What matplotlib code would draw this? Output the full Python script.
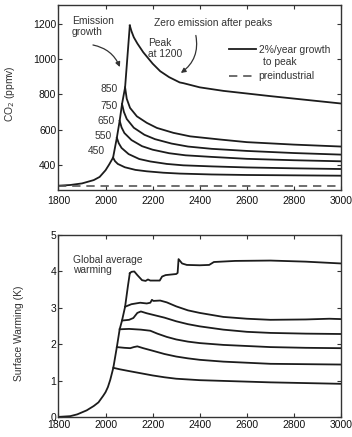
import matplotlib
matplotlib.use("Agg")
import matplotlib.pyplot as plt

plt.rcParams['font.family'] = ['Liberation Sans', 'DejaVu Sans']

# shared emission-growth path (2%/year growth) up to the highest peak
growth_years = [1800, 1850, 1900, 1950, 1975, 2000, 2015, 2032, 2048, 2060, 2070, 2083, 2103]
growth_co2 = [280, 284, 293, 312, 330, 368, 400, 440, 553, 650, 745, 840, 1192]

warm_growth_years = [1800, 1850, 1880, 1920, 1950, 1970, 1990, 2000, 2010, 2020, 2033,
                     2048, 2060, 2070, 2083, 2095, 2103]
warm_growth = [0.0, 0.02, 0.07, 0.18, 0.3, 0.4, 0.58, 0.68, 0.82, 1.02, 1.35,
               1.92, 2.41, 2.65, 3.03, 3.6, 3.95]

peak_labels = ['450', '550', '650', '750', '850']
label_x = [1998, 2027, 2041, 2051, 2051]
label_y = [476, 561, 647, 736, 831]

# CO2 after emissions stop (zero emission after peak)
co2_years = [
    [2032, 2040, 2052, 2082, 2127, 2175, 2245, 2315, 2450, 2600, 2800, 3000],
    [2048, 2056, 2068, 2098, 2143, 2190, 2260, 2330, 2450, 2600, 2800, 3000],
    [2060, 2068, 2080, 2110, 2155, 2200, 2270, 2340, 2450, 2600, 2800, 3000],
    [2070, 2078, 2090, 2120, 2165, 2210, 2280, 2350, 2450, 2600, 2800, 3000],
    [2083, 2090, 2104, 2133, 2175, 2218, 2288, 2359, 2486, 2600, 2800, 3000],
    [2103, 2110, 2120, 2135, 2160, 2200, 2232, 2270, 2300, 2315, 2330, 2400, 2500, 2600,
     2700, 2800, 2900, 3000],
]
co2_vals = [
    [440, 420, 404, 385, 370, 362, 354, 349, 344, 341, 339, 337],
    [553, 522, 495, 460, 432, 418, 404, 396, 390, 384, 379, 375],
    [650, 612, 580, 540, 505, 485, 465, 453, 444, 433, 425, 419],
    [745, 700, 660, 610, 570, 545, 520, 503, 490, 478, 466, 457],
    [840, 775, 723, 675, 638, 609, 581, 561, 543, 528, 514, 503],
    [1192, 1160, 1125, 1090, 1040, 975, 932, 898, 878, 868, 864, 840, 820, 805,
     790, 776, 762, 748],
]
preindustrial = 280

# surface warming after emissions stop
warm_years = [
    [2033, 2060, 2100, 2150, 2200, 2250, 2300, 2350, 2400, 2500, 2600, 2700, 2850, 3000],
    [2048, 2080, 2105, 2120, 2135, 2160, 2200, 2250, 2300, 2350, 2400, 2500, 2600, 2700,
     2850, 3000],
    [2060, 2100, 2150, 2190, 2220, 2260, 2300, 2350, 2400, 2500, 2600, 2700, 2850, 3000],
    [2070, 2100, 2118, 2135, 2150, 2175, 2200, 2250, 2300, 2350, 2400, 2500, 2600, 2700,
     2850, 3000],
    [2083, 2110, 2147, 2175, 2190, 2197, 2203, 2232, 2260, 2300, 2350, 2400, 2500, 2600,
     2700, 2850, 2950, 3000],
    [2103, 2110, 2122, 2135, 2155, 2170, 2180, 2190, 2230, 2240, 2255, 2300, 2306, 2310,
     2325, 2345, 2400, 2440, 2460, 2550, 2700, 2850, 3000],
]
warm_vals = [
    [1.35, 1.31, 1.26, 1.2, 1.14, 1.09, 1.05, 1.03, 1.01, 0.99, 0.97, 0.95, 0.93, 0.91],
    [1.92, 1.9, 1.89, 1.92, 1.94, 1.89, 1.82, 1.73, 1.66, 1.61, 1.57, 1.52, 1.49, 1.46,
     1.45, 1.44],
    [2.41, 2.42, 2.40, 2.37, 2.29, 2.2, 2.13, 2.07, 2.03, 1.98, 1.95, 1.92, 1.9, 1.89],
    [2.65, 2.67, 2.72, 2.86, 2.9, 2.85, 2.81, 2.73, 2.63, 2.55, 2.49, 2.4, 2.34, 2.31,
     2.29, 2.28],
    [3.03, 3.1, 3.14, 3.12, 3.14, 3.22, 3.19, 3.2, 3.15, 3.04, 2.93, 2.86, 2.75, 2.7,
     2.67, 2.68, 2.7, 2.69],
    [3.95, 3.99, 4.0, 3.9, 3.76, 3.74, 3.78, 3.75, 3.75, 3.86, 3.9, 3.93, 3.96, 4.34,
     4.22, 4.18, 4.17, 4.18, 4.26, 4.29, 4.3, 4.27, 4.22],
]

line_col = '#1c1c1c'
text_col = '#333333'
fs = 7.4

fig = plt.figure(figsize=(3.52, 4.37), dpi=100)
ax1 = fig.add_axes([0.166, 0.565, 0.803, 0.424])
ax2 = fig.add_axes([0.166, 0.046, 0.803, 0.416])

# --- top: CO2 ---
ax1.plot(growth_years, growth_co2, color=line_col, lw=1.3, label='2%/year growth')
for yrs, vals in zip(co2_years, co2_vals):
    ax1.plot(yrs, vals, color=line_col, lw=1.3)
ax1.axhline(preindustrial, color='#555555', lw=1.2, ls=(0, (5, 3.5)), label='preindustrial')

ax1.set_xlim(1800, 3000)
ax1.set_ylim(255, 1310)
ax1.set_xticks(range(1800, 3001, 200))
ax1.set_yticks(range(400, 1201, 200))
ax1.set_ylabel('CO$_2$ (ppmv)', fontsize=fs, color=text_col)
ax1.yaxis.set_label_coords(-0.147, 0.52)

for lab, x, y in zip(peak_labels, label_x, label_y):
    ax1.text(x, y, lab, fontsize=fs, color=text_col, ha='right', va='center')

ax1.text(1857, 1187, 'Emission\ngrowth', fontsize=fs, color=text_col, ha='left', va='center',
         linespacing=1.1)
ax1.text(2180, 1061, 'Peak\nat 1200', fontsize=fs, color=text_col, ha='left', va='center',
         linespacing=1.1)
ax1.text(2204, 1204, 'Zero emission after peaks', fontsize=fs, color=text_col,
         ha='left', va='center')
ax1.annotate('', xy=(2065, 941), xytext=(1935, 1084),
             arrowprops=dict(arrowstyle='-|>', color=text_col, lw=0.9, mutation_scale=7,
                             connectionstyle='arc3,rad=-0.3'))
ax1.annotate('', xy=(2310, 913), xytext=(2381, 1151),
             arrowprops=dict(arrowstyle='-|>', color=text_col, lw=0.9, mutation_scale=7,
                             connectionstyle='arc3,rad=-0.35'))

leg = ax1.legend(loc='upper left', bbox_to_anchor=(0.603, 0.784), frameon=False,
                 fontsize=fs, handlelength=2.6, handletextpad=0.3, labelspacing=1.6,
                 borderaxespad=0.0, borderpad=0.0)
for t in leg.get_texts():
    t.set_color(text_col)
ax1.text(0.723, 0.69, 'to peak', transform=ax1.transAxes, fontsize=fs, color=text_col,
         ha='left', va='center')

# --- bottom: warming ---
ax2.plot(warm_growth_years, warm_growth, color=line_col, lw=1.3)
for yrs, vals in zip(warm_years, warm_vals):
    ax2.plot(yrs, vals, color=line_col, lw=1.3)
ax2.set_xlim(1800, 3000)
ax2.set_ylim(0, 5)
ax2.set_xticks(range(1800, 3001, 200))
ax2.set_yticks(range(0, 6))
ax2.set_ylabel('Surface Warming (K)', fontsize=fs, color=text_col)
ax2.yaxis.set_label_coords(-0.121, 0.46)
ax2.text(1861, 4.18, 'Global average\nwarming', fontsize=fs, color=text_col, ha='left',
         va='center', linespacing=1.1)

for ax in (ax1, ax2):
    ax.tick_params(direction='in', length=3, width=0.8, top=True, right=True,
                   labelsize=7.5, labelcolor='#111111', color='#333333')
    ax.tick_params(axis='y', pad=1.5)
    for s in ax.spines.values():
        s.set_color('#333333')
        s.set_linewidth(1.0)
ax1.tick_params(axis='x', pad=4)
ax2.tick_params(axis='x', pad=2.0)

fig.savefig('out.png', dpi=100)
